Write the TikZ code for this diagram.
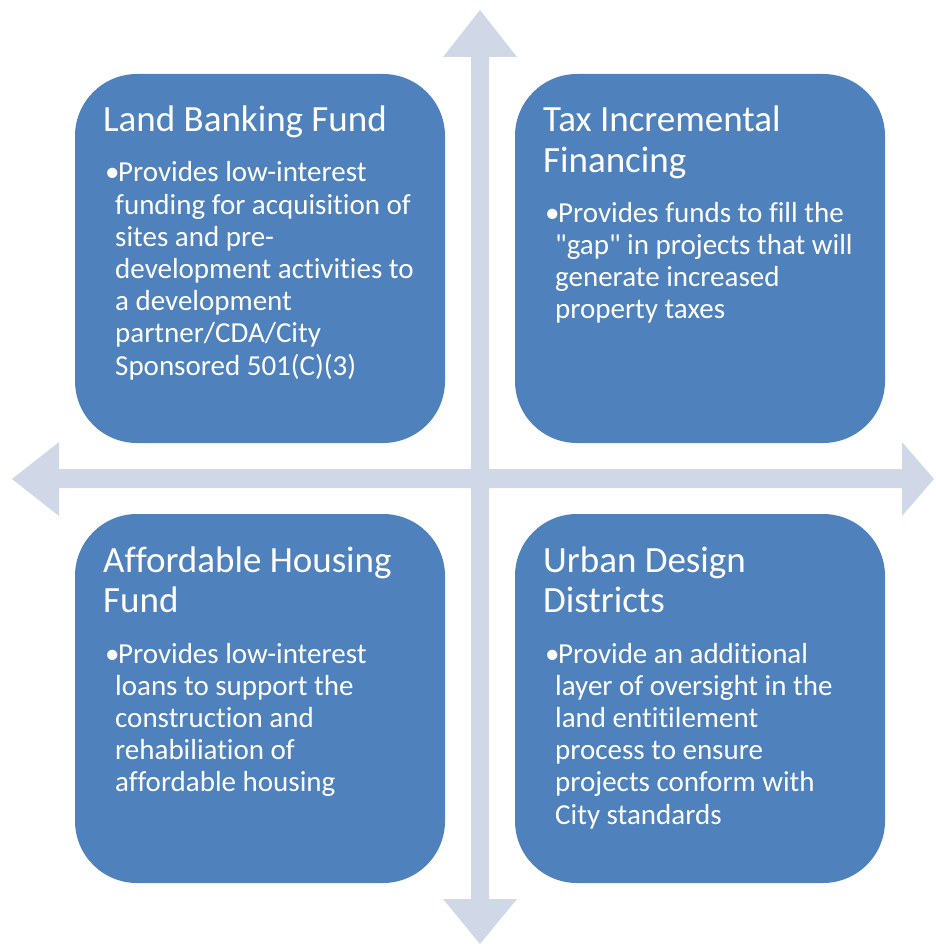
\documentclass[tikz,border=0pt]{standalone}
\usepackage{fontspec}
\setmainfont{Carlito}[Ligatures={TeXOff,NoCommon}]
\definecolor{boxblue}{HTML}{4F81BD}
\definecolor{arrowgray}{HTML}{D0D8E8}
\newcommand{\myblt}{\makebox[15pt][l]{\hspace{2pt}\textbullet}}
\newcommand{\myind}{\hspace*{12pt}}
\tikzset{
  quad/.style={fill=boxblue, draw=none, rounded corners=62pt, minimum width=370pt, minimum height=369pt, inner sep=0pt},
  ttl/.style={anchor=base west, inner sep=0pt, text=white, font=\fontsize{37}{40}\selectfont},
  bdy/.style={anchor=base west, inner sep=0pt, text=white, font=\fontsize{29}{32.2}\selectfont},
  axisarrow/.style={fill=arrowgray, draw=none}
}
\begin{document}
\begin{tikzpicture}[x=1pt,y=-1pt]
\useasboundingbox (0,0) rectangle (935,944);
% axes (double-headed block arrows)
\fill[axisarrow] (480,10) -- (517,57) -- (489,57) -- (489,899) -- (517,899) -- (480,944)
  -- (443,899) -- (471,899) -- (471,57) -- (443,57) -- cycle;
\fill[axisarrow] (12,479) -- (59,442) -- (59,469) -- (902,469) -- (902,442) -- (934,479)
  -- (902,516) -- (902,488) -- (59,488) -- (59,516) -- cycle;
% quadrant boxes
\node[quad] (lb) at (260,258.5) {};
\node[quad] (tif) at (700,258.5) {};
\node[quad] (ahf) at (260,698.5) {};
\node[quad] (udd) at (700,698.5) {};
% texts
\node[ttl] (lbT) at (103,132) {\vtop{\baselineskip=40pt\hbox{Land Banking Fund}}};
\node[bdy] (lbB) at (103,182) {\vtop{\baselineskip=32.2pt
  \hbox{\myblt Provides low-interest}
  \hbox{\myind funding for acquisition of}
  \hbox{\myind sites and pre-}
  \hbox{\myind development activities to}
  \hbox{\myind a development}
  \hbox{\myind partner/CDA/City}
  \hbox{\myind Sponsored 501(C)(3)}}};
\node[ttl] (tifT) at (543,132) {\vtop{\baselineskip=40pt\hbox{Tax Incremental}\hbox{Financing}}};
\node[bdy] (tifB) at (543,222) {\vtop{\baselineskip=32.2pt
  \hbox{\myblt Provides funds to fill the}
  \hbox{\myind "gap" in projects that will}
  \hbox{\myind generate increased}
  \hbox{\myind property taxes}}};
\node[ttl] (ahfT) at (103,572) {\vtop{\baselineskip=40pt\hbox{Affordable Housing}\hbox{Fund}}};
\node[bdy] (ahfB) at (103,663) {\vtop{\baselineskip=32.2pt
  \hbox{\myblt Provides low-interest}
  \hbox{\myind loans to support the}
  \hbox{\myind construction and}
  \hbox{\myind rehabiliation of}
  \hbox{\myind affordable housing}}};
\node[ttl] (uddT) at (543,572) {\vtop{\baselineskip=40pt\hbox{Urban Design}\hbox{Districts}}};
\node[bdy] (uddB) at (543,663) {\vtop{\baselineskip=32.2pt
  \hbox{\myblt Provide an additional}
  \hbox{\myind layer of oversight in the}
  \hbox{\myind land entitilement}
  \hbox{\myind process to ensure}
  \hbox{\myind projects conform with}
  \hbox{\myind City standards}}};
\end{tikzpicture}
\end{document}
